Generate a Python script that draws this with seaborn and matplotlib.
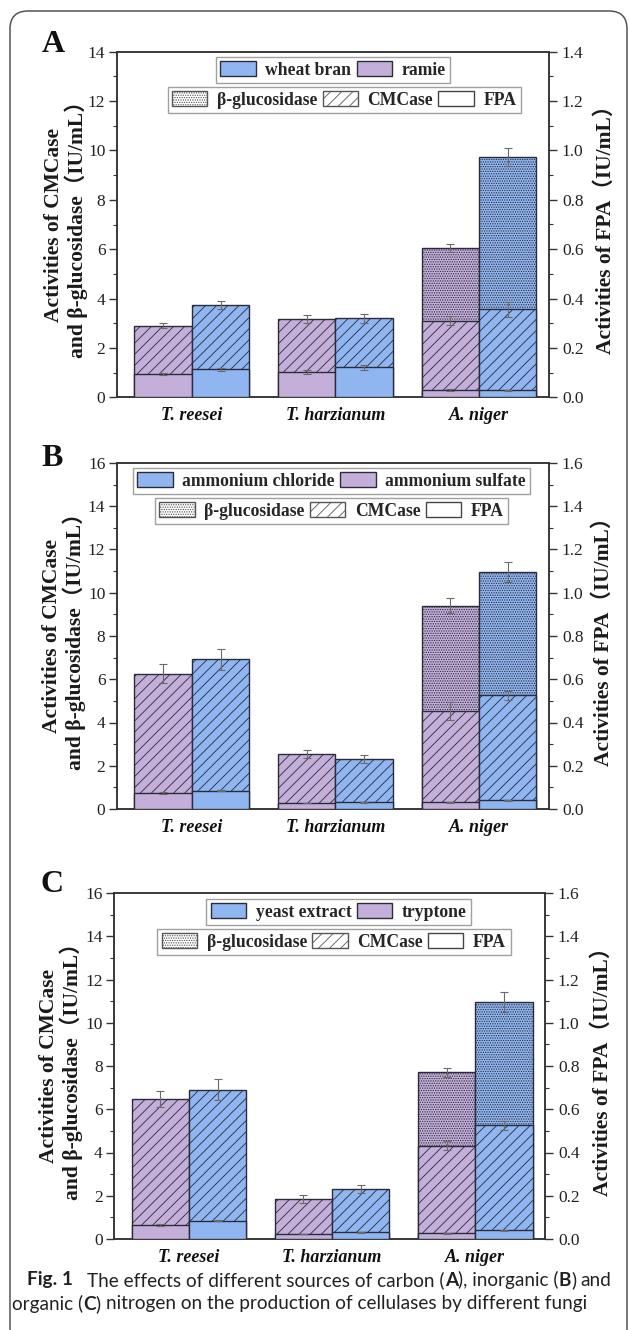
import numpy as np
import pandas as pd
import matplotlib
matplotlib.use("Agg")
import matplotlib.pyplot as plt
import seaborn as sns
from matplotlib.patches import Patch, FancyBboxPatch
from matplotlib.transforms import IdentityTransform
from matplotlib.ticker import MultipleLocator, FormatStrFormatter

nan = np.nan

# ---------------- data ----------------
fungi = ["T. reesei", "T. harzianum", "A. niger"]

# Panel A: carbon sources (first = purple, second = blue)
A_sources = ["ramie", "wheat bran"]
A_bgl = [[nan, nan, 6.04], [nan, nan, 9.75]]
A_bgl_err = [[nan, nan, 0.16], [nan, nan, 0.36]]
A_cmc = [[2.90, 3.16, 3.11], [3.74, 3.20, 3.56]]
A_cmc_err = [[0.11, 0.16, 0.17], [0.17, 0.17, 0.30]]
A_fpa = [[0.095, 0.103, 0.030], [0.113, 0.121, 0.028]]
A_fpa_err = [[0.004, 0.008, 0.003], [0.005, 0.009, 0.003]]

# Panel B: inorganic nitrogen sources
B_sources = ["ammonium sulfate", "ammonium chloride"]
B_bgl = [[nan, nan, 9.40], [nan, nan, 10.94]]
B_bgl_err = [[nan, nan, 0.35], [nan, nan, 0.46]]
B_cmc = [[6.26, 2.56, 4.52], [6.92, 2.31, 5.26]]
B_cmc_err = [[0.45, 0.19, 0.42], [0.50, 0.17, 0.20]]
B_fpa = [[0.074, 0.028, 0.032], [0.085, 0.032, 0.040]]
B_fpa_err = [[0.004, 0.002, 0.002], [0.004, 0.002, 0.002]]

# Panel C: organic nitrogen sources
C_sources = ["tryptone", "yeast extract"]
C_bgl = [[nan, nan, 7.70], [nan, nan, 10.94]]
C_bgl_err = [[nan, nan, 0.20], [nan, nan, 0.46]]
C_cmc = [[6.48, 1.85, 4.32], [6.91, 2.33, 5.25]]
C_cmc_err = [[0.37, 0.17, 0.19], [0.49, 0.18, 0.20]]
C_fpa = [[0.065, 0.023, 0.026], [0.085, 0.031, 0.040]]
C_fpa_err = [[0.006, 0.002, 0.002], [0.004, 0.002, 0.002]]

enzymes = ["β-glucosidase", "CMCase", "FPA"]

# ---------------- style ----------------
sns.set_theme(style="ticks")
SERIF = ["Liberation Serif", "Noto Sans CJK SC", "DejaVu Sans"]
plt.rcParams["font.family"] = SERIF
plt.rcParams["hatch.linewidth"] = 0.6

PURPLE = "#C3AFD9"
BLUE = "#8FB6F1"
EDGE = "#2B2B3A"
ERRC = "#6A6A6A"
SPINE = "#333333"
HATCH = {"β-glucosidase": ".......", "CMCase": "///", "FPA": None}

W, H = 629, 1330
fig = plt.figure(figsize=(W / 100, H / 100), dpi=100)
fig.patch.set_facecolor("white")


def long_df(vals, sources):
    rows = []
    for si, s in enumerate(sources):
        for fi, f in enumerate(fungi):
            v = vals[si][fi]
            if not np.isnan(v):
                rows.append({"fungus": f, "source": s, "value": v})
    return pd.DataFrame(rows)


def draw_layer(ax, vals, errs, sources, hatch, z):
    n0 = len(ax.patches)
    sns.barplot(data=long_df(vals, sources), x="fungus", y="value", hue="source",
                order=fungi, hue_order=sources, palette=[PURPLE, BLUE],
                dodge=True, width=0.8, saturation=1, errorbar=None,
                legend=False, edgecolor=EDGE, linewidth=1.0, ax=ax)
    for p in ax.patches[n0:]:
        p.set_zorder(z)
        if hatch:
            p.set_hatch(hatch)
        cx = p.get_x() + p.get_width() / 2
        fi = int(round(cx))
        si = 0 if cx < fi else 1
        e = errs[si][fi]
        ax.errorbar(cx, p.get_height(), yerr=e, fmt="none", ecolor=ERRC,
                    elinewidth=0.8, capsize=3, capthick=0.8, zorder=z + 0.5)


def panel(box, letter, sources, bgl, bgl_e, cmc, cmc_e, fpa, fpa_e, ymax,
          leg1, leg2, ylab_x, rlab_x):
    left, right, top, bottom = box
    ax = fig.add_axes([left / W, 1 - bottom / H, (right - left) / W, (bottom - top) / H])
    ax.set_facecolor("white")
    draw_layer(ax, bgl, bgl_e, sources, HATCH["β-glucosidase"], 2)
    draw_layer(ax, cmc, cmc_e, sources, HATCH["CMCase"], 3)
    ax2 = ax.twinx()
    draw_layer(ax2, fpa, fpa_e, sources, HATCH["FPA"], 3)

    ax.set_ylim(0, ymax)
    ax2.set_ylim(0, ymax / 10)
    ax.set_xlim(-0.525, 2.49)
    ax.yaxis.set_major_locator(MultipleLocator(2))
    ax.yaxis.set_minor_locator(MultipleLocator(1))
    ax2.yaxis.set_major_locator(MultipleLocator(0.2))
    ax2.yaxis.set_minor_locator(MultipleLocator(0.1))
    ax2.yaxis.set_major_formatter(FormatStrFormatter("%.1f"))
    ax.set_xticks(range(len(fungi)))
    ax.set_xticklabels(fungi, fontsize=13, fontweight="bold", fontstyle="italic")
    ax.set_xlabel("")
    ax.set_ylabel("")
    ax2.set_ylabel("")
    for a in (ax, ax2):
        for s in a.spines.values():
            s.set_color(SPINE)
            s.set_linewidth(1.1)
            s.set_visible(True)
    ax.tick_params(axis="y", which="major", length=6, width=1, color=SPINE,
                   labelsize=12.5, pad=2, labelcolor="#222222")
    ax.tick_params(axis="y", which="minor", length=3, width=0.8, color=SPINE)
    ax2.tick_params(axis="y", which="major", length=6, width=1, color=SPINE,
                    labelsize=12.5, pad=3, labelcolor="#222222")
    ax2.tick_params(axis="y", which="minor", length=3, width=0.8, color=SPINE)
    ax.tick_params(axis="x", length=0, pad=7, labelcolor="#111111")

    # legends
    h1 = [Patch(facecolor=BLUE, edgecolor=EDGE, linewidth=1.0, label=sources[1]),
          Patch(facecolor=PURPLE, edgecolor=EDGE, linewidth=1.0, label=sources[0])]
    h2 = []
    for e in enzymes:
        if HATCH[e]:
            h2.append(Patch(facecolor="white", edgecolor="#555555", hatch=HATCH[e],
                            linewidth=1.0, label=e))
        else:
            h2.append(Patch(facecolor="white", edgecolor="#444444", linewidth=1.0, label=e))
    lp = dict(loc="upper center", frameon=True, fancybox=False, framealpha=1,
              borderpad=0.25, borderaxespad=0, handlelength=2.0, handleheight=0.9,
              handletextpad=0.55, columnspacing=0.3,
              prop={"family": SERIF, "weight": "bold", "size": 12.7})
    L1 = ax2.legend(handles=h1, ncol=2, bbox_to_anchor=leg1, **lp)
    L1.get_frame().set_edgecolor("#A0A0A0")
    L1.get_frame().set_linewidth(1.0)
    ax2.add_artist(L1)
    L2 = ax2.legend(handles=h2, ncol=3, bbox_to_anchor=leg2, **lp)
    L2.get_frame().set_edgecolor("#A0A0A0")
    L2.get_frame().set_linewidth(1.0)
    L1.set_zorder(10)
    L2.set_zorder(10)

    ymid = (top + bottom) / 2
    fig.text(ylab_x / W, 1 - ymid / H,
             "Activities of CMCase\nand β-glucosidase（IU/mL）",
             rotation=90, ha="center", va="center", multialignment="center",
             fontsize=15.5, fontweight="bold", linespacing=1.0, family=SERIF,
             color="#1a1a1a")
    fig.text(rlab_x / W, 1 - ymid / H, "Activities of FPA（IU/mL）",
             rotation=90, ha="center", va="center",
             fontsize=15.5, fontweight="bold", family=SERIF, color="#1a1a1a")
    fig.text(letter[1] / W, 1 - letter[2] / H, letter[0], ha="center", va="center",
             fontsize=23, fontweight="bold", family=SERIF, color="#111111")


panel((116.5, 549.4, 51.7, 397.3), ("A", 53, 45), A_sources, A_bgl, A_bgl_err,
      A_cmc, A_cmc_err, A_fpa, A_fpa_err, 14, (0.5, 0.985), (0.526, 0.898), 66, 606)
panel((116.5, 549.4, 463, 809), ("B", 52, 458), B_sources, B_bgl, B_bgl_err,
      B_cmc, B_cmc_err, B_fpa, B_fpa_err, 16, (0.497, 0.986), (0.497, 0.899), 64, 604)
panel((113.7, 545.4, 893, 1239), ("C", 52, 885), C_sources, C_bgl, C_bgl_err,
      C_cmc, C_cmc_err, C_fpa, C_fpa_err, 16, (0.521, 0.983), (0.510, 0.896), 61, 603)

# ---------------- frame ----------------
frame = FancyBboxPatch((10, -30), 617, H - 11 + 30, boxstyle="round,pad=0,rounding_size=18",
                       transform=IdentityTransform(), facecolor="none",
                       edgecolor="#555555", linewidth=1.1)
fig.patches.append(frame)

# ---------------- caption ----------------
CAP = ["Lato", "DejaVu Sans"]
renderer = fig.canvas.get_renderer()

line1 = [("Fig. 1", True, 3.0),
         ("The effects of different sources of carbon (", False, 0),
         ("A", True, 0), ("), inorganic (", False, 0), ("B", True, 0),
         (")", False, 1.0), ("and", False, 0)]
line2 = [("organic (", False, 0), ("C", True, 0), (")", False, 1.0),
         ("nitrogen on the production of cellulases by different fungi", False, 0)]


def rich_line(x_px, y_px, parts, size, draw=True):
    x = x_px
    sp = size * 100 / 72 * 0.25
    for txt, bold, gap in parts:
        t = fig.text(x / W, 1 - y_px / H, txt, fontsize=size,
                     fontweight="bold" if bold else "normal", family=CAP,
                     ha="left", va="center", color="#222222")
        x += t.get_window_extent(renderer).width + gap * sp
        if not draw:
            t.remove()
    return x - x_px


w1 = rich_line(0, 0, line1, 10, draw=False)
w2 = rich_line(0, 0, line2, 10, draw=False)
cap_size = 10 * min(588 / w1, 602 / w2)
rich_line(27, 1280, line1, cap_size)
rich_line(12, 1304, line2, cap_size)

fig.savefig("out.png", dpi=100, facecolor="white")
